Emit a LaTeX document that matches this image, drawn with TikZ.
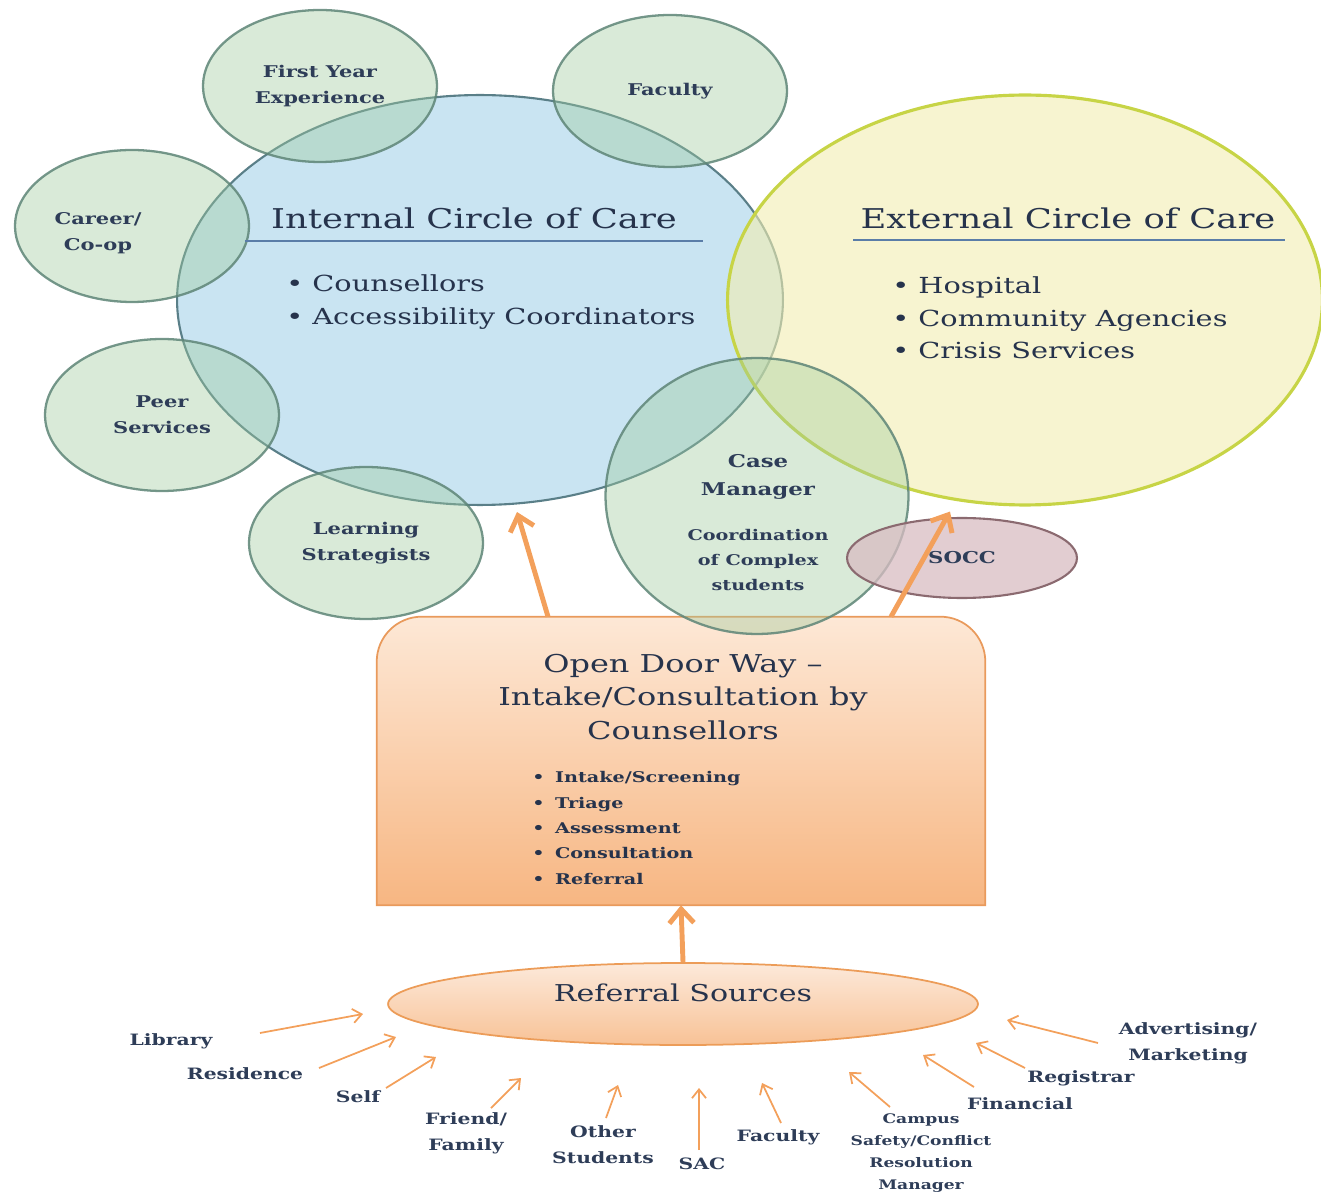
\documentclass[tikz,border=0pt]{standalone}
\usepackage{fontspec}
\setmainfont{DejaVu Serif}[FakeStretch=1.3]
\usetikzlibrary{shapes.geometric,arrows.meta}

\definecolor{bluefill}{HTML}{C9E4F2}
\definecolor{blueline}{HTML}{5A7F88}
\definecolor{yellowfill}{HTML}{F2EDB0}
\definecolor{yellowline}{HTML}{C7D446}
\definecolor{greenfill}{HTML}{9FCB9E}
\definecolor{greenline}{HTML}{5E8577}
\definecolor{soccfill}{HTML}{D8BCC2}
\definecolor{soccline}{HTML}{8B6A70}
\definecolor{doortop}{HTML}{FDE8D6}
\definecolor{doorbot}{HTML}{F7B682}
\definecolor{doorline}{HTML}{E99A5C}
\definecolor{reftop}{HTML}{FCE9DA}
\definecolor{refbot}{HTML}{F8C296}
\definecolor{refline}{HTML}{EC9C58}
\definecolor{arrowor}{HTML}{F3A05B}
\definecolor{txtnavy}{HTML}{2E3D58}
\definecolor{headnavy}{HTML}{26334C}
\definecolor{rulecol}{HTML}{5A7DA8}

\begin{document}
\begin{tikzpicture}[x=0.02cm, y=-0.02cm,
    every node/.style={inner sep=0pt, align=center, text=txtnavy},
    bigcircle/.style={ellipse, minimum width=12.12cm, minimum height=8.2cm, line width=1.2pt},
    smallcircle/.style={ellipse, minimum width=4.68cm, minimum height=3.04cm, draw=greenline, draw opacity=0.85,
        fill=greenfill, fill opacity=0.4, text opacity=1, line width=1.3pt, font=\bfseries\fontsize{9.2}{14.8}\selectfont},
    heading/.style={font=\fontsize{15.5}{17}\selectfont, text=headnavy},
    headrule/.style={draw=rulecol, line width=1.6pt},
    bullets/.style={align=left, font=\fontsize{12.6}{18.5}\selectfont, text=headnavy},
    srclabel/.style={font=\bfseries\fontsize{8.9}{14.8}\selectfont},
    bigarrow/.style={draw=arrowor, line width=2.8pt, -{Straight Barb[length=8pt, width=14pt]}},
    srcarrow/.style={draw=arrowor, line width=1pt, -{Straight Barb[length=5pt, width=8pt]}}]

    \useasboundingbox (0,0) rectangle (1321,1195);

    % The two circles of care
    \node[bigcircle, draw=blueline, fill=bluefill] (intc) at (480,300) {};
    \node[bigcircle, minimum width=11.9cm, draw=yellowline, line width=1.8pt, fill=yellowfill, fill opacity=0.6] (extc) at (1025,300) {};

    % The services round the internal circle
    \node[smallcircle] (fye) at (320,86) {First Year\\Experience};
    \node[smallcircle] (fac) at (670,91) {Faculty};
    \node[smallcircle] (car) at (132,226) {};
    \node[smallcircle] (peer) at (162,415) {Peer\\Services};
    \node[smallcircle] (learn) at (366,543) {Learning\\Strategists};
    \node[srclabel, font=\bfseries\fontsize{9.2}{14.8}\selectfont] (cartxt) at (98,233) {Career/\\Co-op};

    % The intake box
    \node[minimum width=12.16cm, minimum height=5.76cm] (door) at (681,761) {};
    \path[draw=doorline, line width=1pt, top color=doortop, bottom color=doorbot]
        (door.south west) [rounded corners=0.9cm] -- (door.north west) -- (door.north east)
        [sharp corners] -- (door.south east) -- cycle;

    % Case manager and SOCC
    \node[smallcircle, minimum width=6.06cm, minimum height=5.52cm] (case) at (757,496) {};
    \node[ellipse, minimum width=4.6cm, minimum height=1.6cm, draw=soccline, line width=1.2pt,
        fill=soccfill, fill opacity=0.75, text opacity=1, font=\bfseries\fontsize{9.3}{10}\selectfont] (socc) at (962,558) {SOCC};

    % Referral sources
    \node[ellipse, minimum width=11.8cm, minimum height=1.64cm, draw=refline, line width=1pt,
        top color=reftop, bottom color=refbot] (ref) at (683,1004) {};

    % Big arrows
    \draw[bigarrow] ([shift={(-133,0)}]door.north) -- ([shift={(37,6)}]intc.south);
    \draw[bigarrow] ([shift={(210,0)}]door.north) -- ([shift={(-75,5)}]extc.south);
    \draw[bigarrow] (ref.north) -- (door.south);

    % Texts of the circles
    \node[heading, anchor=base] (inthead) at (474,229) {Internal Circle of Care};
    \draw[headrule] (245,241) -- (703,241);
    \node[bullets, anchor=west] (intlist) at (286,302) {\textbullet\ Counsellors\\\textbullet\ Accessibility Coordinators};

    \node[heading, anchor=base] (exthead) at (1068,229) {External Circle of Care};
    \draw[headrule] (853,240) -- (1285,240);
    \node[bullets, anchor=west] (extlist) at (892,318) {\textbullet\ Hospital\\\textbullet\ Community Agencies\\\textbullet\ Crisis Services};

    \node[font=\bfseries\fontsize{10}{16}\selectfont] (casetitle) at (758,477) {Case\\Manager};
    \node[font=\bfseries\fontsize{8.4}{14}\selectfont] (casenote) at (758,560) {Coordination\\of Complex\\students};

    % Texts of the intake box
    \node[font=\fontsize{14}{19.3}\selectfont, text=headnavy] (doortitle) at (683,697) {Open Door Way --\\Intake/Consultation by\\Counsellors};
    \node[anchor=west, align=left, font=\bfseries\fontsize{8.4}{14.4}\selectfont, text=headnavy] (doorlist) at (532,828)
        {\textbullet\hspace{6pt}Intake/Screening\\\textbullet\hspace{6pt}Triage\\\textbullet\hspace{6pt}Assessment\\\textbullet\hspace{6pt}Consultation\\\textbullet\hspace{6pt}Referral};

    \node[font=\fontsize{13.2}{15}\selectfont, text=headnavy] (reftxt) at (683,993) {Referral Sources};

    % Library
    \node[srclabel] (lib) at (171,1041) {Library};
    \coordinate (lib-t) at (260,1033);
    \coordinate (lib-h) at (363,1014);
    \draw[srcarrow] (lib-t) -- (lib-h);

    % Residence
    \node[srclabel] (res) at (245,1074) {Residence};
    \coordinate (res-t) at (319,1068);
    \coordinate (res-h) at (396,1037);
    \draw[srcarrow] (res-t) -- (res-h);

    % Self
    \node[srclabel] (self) at (358,1097) {Self};
    \coordinate (self-t) at (386,1088);
    \coordinate (self-h) at (436,1057);
    \draw[srcarrow] (self-t) -- (self-h);

    % Friend/Family
    \node[srclabel] (fam) at (466,1133) {Friend/\\Family};
    \coordinate (fam-t) at (491,1108);
    \coordinate (fam-h) at (521,1078);
    \draw[srcarrow] (fam-t) -- (fam-h);

    % Other students
    \node[srclabel] (oth) at (603,1145) {Other\\Students};
    \coordinate (oth-t) at (606,1118);
    \coordinate (oth-h) at (618,1085);
    \draw[srcarrow] (oth-t) -- (oth-h);

    % SAC
    \node[srclabel] (sac) at (702,1164) {SAC};
    \coordinate (sac-t) at (699,1150);
    \coordinate (sac-h) at (699,1088);
    \draw[srcarrow] (sac-t) -- (sac-h);

    % Faculty
    \node[srclabel] (fcl) at (778,1137) {Faculty};
    \coordinate (fcl-t) at (781,1123);
    \coordinate (fcl-h) at (762,1083);
    \draw[srcarrow] (fcl-t) -- (fcl-h);

    % Campus safety
    \node[srclabel, font=\bfseries\fontsize{7.5}{12.5}\selectfont] (camp) at (921,1153) {Campus\\Safety/Conflict\\Resolution\\Manager};
    \coordinate (camp-t) at (890,1107);
    \coordinate (camp-h) at (849,1072);
    \draw[srcarrow] (camp-t) -- (camp-h);

    % Financial
    \node[srclabel] (fin) at (1020,1104) {Financial};
    \coordinate (fin-t) at (974,1087);
    \coordinate (fin-h) at (923,1055);
    \draw[srcarrow] (fin-t) -- (fin-h);

    % Registrar
    \node[srclabel] (reg) at (1081,1078) {Registrar};
    \coordinate (reg-t) at (1025,1068);
    \coordinate (reg-h) at (976,1043);
    \draw[srcarrow] (reg-t) -- (reg-h);

    % Advertising
    \node[srclabel] (adv) at (1188,1043) {Advertising/\\Marketing};
    \coordinate (adv-t) at (1098,1043);
    \coordinate (adv-h) at (1007,1020);
    \draw[srcarrow] (adv-t) -- (adv-h);
\end{tikzpicture}
\end{document}
